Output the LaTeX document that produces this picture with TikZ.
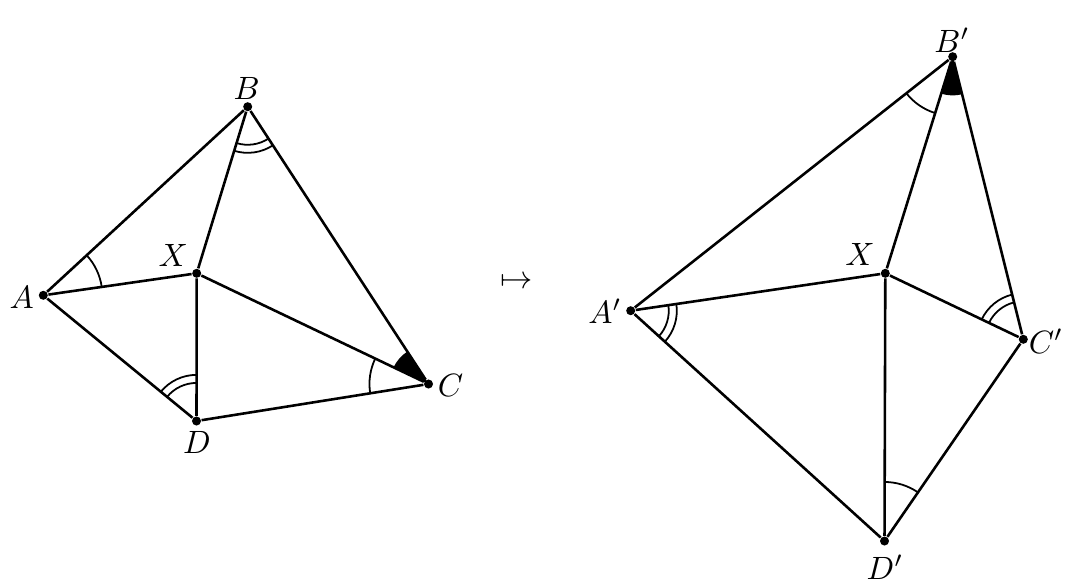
\documentclass[tikz,border=0pt]{standalone}
\usetikzlibrary{angles}
\tikzset{
  dot/.style={circle,fill=black,inner sep=0pt,minimum size=2.8pt},
  edge/.style={line width=0.8pt},
  lbl/.style={inner sep=0pt},
  mk/.style={draw,line width=0.55pt},
  sgl/.style={mk,angle radius=18.3pt},
  dblin/.style={mk,angle radius=11.8pt},
  dblout/.style={mk,angle radius=14.3pt},
  wedge/.style={fill=black,draw=black,line width=0.4pt,angle radius=11.8pt},
}
\begin{document}
\begin{tikzpicture}[x=0.31pt,y=-0.31pt]
\useasboundingbox (0,0) rectangle (1084,586);
% left figure
\node[dot] (A) at (43.3,295.3) {};
\node[dot] (B) at (247.7,106.7) {};
\node[dot] (X) at (196.7,273.3) {};
\node[dot] (C) at (428.5,384) {};
\node[dot] (D) at (196.5,421) {};
\node[lbl] (lA) at (21.7,297.5) {$A$};
\node[lbl] (lB) at (246.7,88) {$B$};
\node[lbl] (lX) at (173.3,255) {$X$};
\node[lbl] (lC) at (450.5,385.5) {$C$};
\node[lbl] (lD) at (197,442) {$D$};
\draw[edge] (A) -- (B) -- (C) -- (D) -- (A);
\draw[edge] (X) -- (A) (X) -- (B) (X) -- (C) (X) -- (D);
\pic[sgl] {angle = X--A--B};
\pic[dblin] {angle = X--B--C};
\pic[dblout] {angle = X--B--C};
\pic[sgl] {angle = X--C--D};
\pic[wedge] {angle = B--C--X};
\pic[dblin] {angle = X--D--A};
\pic[dblout] {angle = X--D--A};
% map symbol
\node[lbl] (map) at (517,283) {$\mapsto$};
% right figure
\node[dot] (A2) at (630.7,310.7) {};
\node[dot] (B2) at (952.7,56.7) {};
\node[dot] (X2) at (885.3,273.3) {};
\node[dot] (C2) at (1023.3,339.3) {};
\node[dot] (D2) at (884.5,541) {};
\node[lbl] (lA2) at (605,311.5) {$A'$};
\node[lbl] (lB2) at (952,40) {$B'$};
\node[lbl] (lX2) at (860,254.5) {$X$};
\node[lbl] (lC2) at (1046,341) {$C'$};
\node[lbl] (lD2) at (885,567) {$D'$};
\draw[edge] (A2) -- (B2) -- (C2) -- (D2) -- (A2);
\draw[edge] (X2) -- (A2) (X2) -- (B2) (X2) -- (C2) (X2) -- (D2);
\pic[dblin] {angle = D2--A2--X2};
\pic[dblout] {angle = D2--A2--X2};
\pic[sgl] {angle = A2--B2--X2};
\pic[wedge] {angle = X2--B2--C2};
\pic[dblin] {angle = B2--C2--X2};
\pic[dblout] {angle = B2--C2--X2};
\pic[sgl] {angle = C2--D2--X2};
\end{tikzpicture}
\end{document}
